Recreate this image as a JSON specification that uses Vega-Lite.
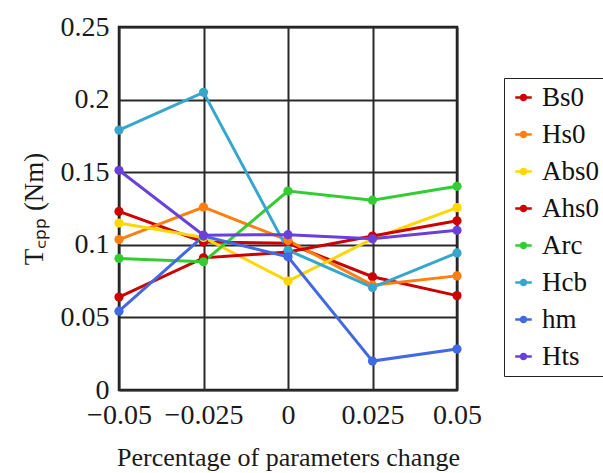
{
  "$schema": "https://vega.github.io/schema/vega-lite/v6.json",
  "width": 338,
  "height": 363,
  "autosize": {"type": "none"},
  "padding": {"left": 119, "top": 27, "right": 146, "bottom": 83},
  "background": "white",
  "config": {
    "view": {"stroke": "#1a1a1a", "strokeWidth": 2.5},
    "font": "Liberation Serif"
  },
  "data": {
    "values": [
      {"x": -0.05, "y": 0.123, "s": "Bs0"},
      {"x": -0.025, "y": 0.102, "s": "Bs0"},
      {"x": 0, "y": 0.101, "s": "Bs0"},
      {"x": 0.025, "y": 0.078, "s": "Bs0"},
      {"x": 0.05, "y": 0.065, "s": "Bs0"},
      {"x": -0.05, "y": 0.1036, "s": "Hs0"},
      {"x": -0.025, "y": 0.126, "s": "Hs0"},
      {"x": 0, "y": 0.103, "s": "Hs0"},
      {"x": 0.025, "y": 0.0722, "s": "Hs0"},
      {"x": 0.05, "y": 0.0786, "s": "Hs0"},
      {"x": -0.05, "y": 0.115, "s": "Abs0"},
      {"x": -0.025, "y": 0.105, "s": "Abs0"},
      {"x": 0, "y": 0.075, "s": "Abs0"},
      {"x": 0.025, "y": 0.104, "s": "Abs0"},
      {"x": 0.05, "y": 0.1256, "s": "Abs0"},
      {"x": -0.05, "y": 0.064, "s": "Ahs0"},
      {"x": -0.025, "y": 0.091, "s": "Ahs0"},
      {"x": 0, "y": 0.095, "s": "Ahs0"},
      {"x": 0.025, "y": 0.106, "s": "Ahs0"},
      {"x": 0.05, "y": 0.1165, "s": "Ahs0"},
      {"x": -0.05, "y": 0.0906, "s": "Arc"},
      {"x": -0.025, "y": 0.0883, "s": "Arc"},
      {"x": 0, "y": 0.137, "s": "Arc"},
      {"x": 0.025, "y": 0.1307, "s": "Arc"},
      {"x": 0.05, "y": 0.1403, "s": "Arc"},
      {"x": -0.05, "y": 0.179, "s": "Hcb"},
      {"x": -0.025, "y": 0.205, "s": "Hcb"},
      {"x": 0, "y": 0.0963, "s": "Hcb"},
      {"x": 0.025, "y": 0.0706, "s": "Hcb"},
      {"x": 0.05, "y": 0.0944, "s": "Hcb"},
      {"x": -0.05, "y": 0.0543, "s": "hm"},
      {"x": -0.025, "y": 0.106, "s": "hm"},
      {"x": 0, "y": 0.0917, "s": "hm"},
      {"x": 0.025, "y": 0.0199, "s": "hm"},
      {"x": 0.05, "y": 0.0282, "s": "hm"},
      {"x": -0.05, "y": 0.1513, "s": "Hts"},
      {"x": -0.025, "y": 0.1066, "s": "Hts"},
      {"x": 0, "y": 0.107, "s": "Hts"},
      {"x": 0.025, "y": 0.1041, "s": "Hts"},
      {"x": 0.05, "y": 0.110, "s": "Hts"}
    ]
  },
  "mark": {"type": "line", "strokeWidth": 3, "point": {"filled": true, "size": 85, "opacity": 1}},
  "encoding": {
    "x": {
      "field": "x", "type": "quantitative",
      "scale": {"domain": [-0.05, 0.05], "nice": false, "zero": false},
      "axis": {
        "values": [-0.05, -0.025, 0, 0.025, 0.05],
        "labelExpr": "replace(toString(datum.value), '-', '−')",
        "title": "Percentage of parameters change",
        "titleFont": "Liberation Serif", "titleFontSize": 26, "titleFontWeight": "normal", "titleColor": "#1a1a1a",
        "titlePadding": 15,
        "labelFont": "Liberation Serif", "labelFontSize": 28, "labelColor": "#1a1a1a",
        "labelPadding": 11,
        "labelOverlap": false,
        "labelFlush": false,
        "ticks": false, "domain": false,
        "grid": true, "gridColor": "#2a2a2a", "gridWidth": 2, "gridOpacity": 1
      }
    },
    "y": {
      "field": "y", "type": "quantitative",
      "scale": {"domain": [0, 0.25], "nice": false},
      "axis": {
        "values": [0, 0.05, 0.1, 0.15, 0.2, 0.25],
        "labelExpr": "toString(datum.value)",
        "title": "T꜀ₚₚ (Nm)",
        "titleFont": "Liberation Serif", "titleFontSize": 27, "titleFontWeight": "normal", "titleColor": "#1a1a1a",
        "titlePadding": 12,
        "labelFont": "Liberation Serif", "labelFontSize": 28, "labelColor": "#1a1a1a",
        "labelPadding": 10,
        "labelOverlap": false,
        "labelFlush": false,
        "ticks": false, "domain": false,
        "grid": true, "gridColor": "#2a2a2a", "gridWidth": 2, "gridOpacity": 1
      }
    },
    "color": {
      "field": "s", "type": "nominal",
      "sort": ["Bs0", "Hs0", "Abs0", "Ahs0", "Arc", "Hcb", "hm", "Hts"],
      "scale": {
        "domain": ["Bs0", "Hs0", "Abs0", "Ahs0", "Arc", "Hcb", "hm", "Hts"],
        "range": ["#cc0000", "#ff7f0e", "#ffd700", "#cc0000", "#33cc33", "#36a6cc", "#4169e1", "#6a40dc"]
      },
      "legend": {
        "title": null,
        "orient": "none",
        "legendX": 385,
        "legendY": 51,
        "symbolType": "M -1 0 L 1 0 M -0.3 0 A 0.3 0.3 0 1 1 0.3 0 A 0.3 0.3 0 1 1 -0.3 0 Z",
        "symbolSize": 272,
        "symbolStrokeWidth": 2.5,
        "labelFont": "Liberation Serif", "labelFontSize": 27, "labelColor": "#111",
        "labelOffset": 5,
        "rowPadding": 9,
        "padding": 6,
        "strokeColor": "#222",
        "fillColor": "white"
      }
    }
  }
}
